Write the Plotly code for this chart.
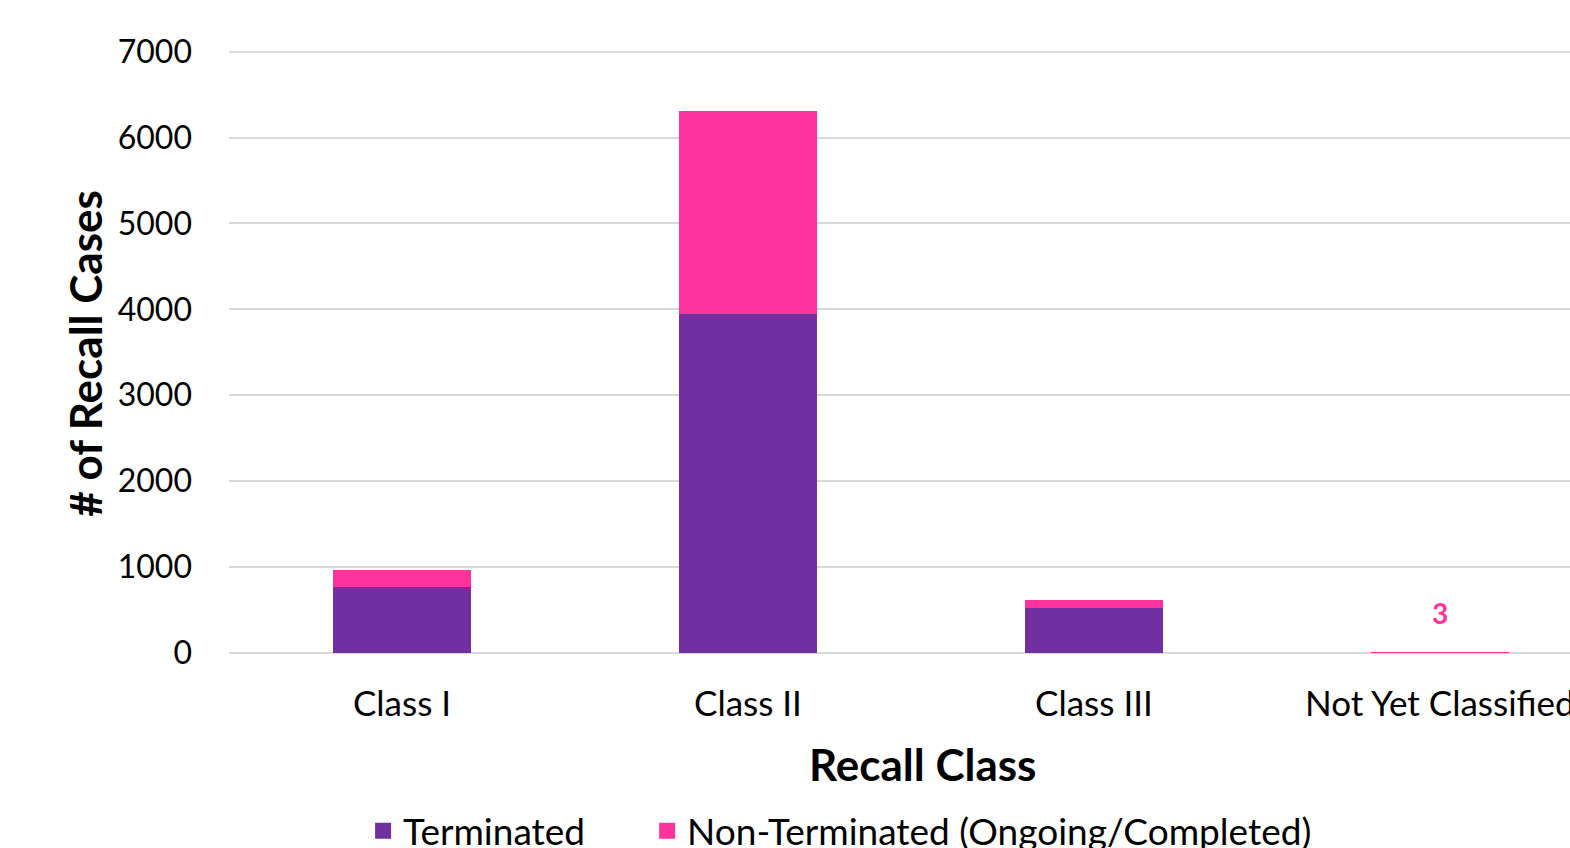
import plotly.graph_objects as go

categories = ["Class I", "Class II", "Class III", "Not Yet Classified"]
terminated = [768, 3950, 523, 0]
non_terminated = [195, 2358, 98, 3]
y_ticks = [0, 1000, 2000, 3000, 4000, 5000, 6000, 7000]

PURPLE = "#7030A0"
PINK = "#FF3399"
FONT = "Lato"

fig = go.Figure()
fig.add_trace(go.Bar(x=categories, y=terminated, name="Terminated", showlegend=False,
                     marker=dict(color=PURPLE, line=dict(width=0)), width=0.4))
fig.add_trace(go.Bar(x=categories, y=non_terminated, name="Non-Terminated (Ongoing/Completed)",
                     showlegend=False,
                     marker=dict(color=PINK, line=dict(width=0)), width=0.4))
# legend entries with larger square swatches
fig.add_trace(go.Scatter(x=[None], y=[None], mode="markers", name="Terminated", legend="legend",
                         marker=dict(symbol="square", size=20, color=PURPLE)))
fig.add_trace(go.Scatter(x=[None], y=[None], mode="markers", name="Non-Terminated (Ongoing/Completed)",
                         legend="legend2",
                         marker=dict(symbol="square", size=20, color=PINK)))

fig.add_annotation(x=categories[3], y=terminated[3] + non_terminated[3], text="<b>3</b>",
                   showarrow=False, yshift=40, font=dict(family=FONT, size=28, color=PINK))

fig.add_annotation(xref="paper", yref="paper", x=0.5168, y=-0.184, text="<b>Recall Class</b>",
                   showarrow=False, xanchor="center", yanchor="middle",
                   font=dict(family=FONT, size=44, color="black"))
fig.add_annotation(xref="paper", yref="paper", x=-0.1074, y=0.497, text="<b># of Recall Cases</b>",
                   showarrow=False, xanchor="center", yanchor="middle", textangle=-90,
                   font=dict(family=FONT, size=44, color="black"))

legend_common = dict(orientation="h", xanchor="left", yanchor="middle", y=-0.295,
                     font=dict(family=FONT, size=37, color="black"),
                     itemwidth=30, itemsizing="trace", bgcolor="rgba(0,0,0,0)")

fig.update_layout(
    barmode="stack",
    width=1570, height=848,
    margin=dict(l=229, r=0, t=49, b=195, autoexpand=False),
    plot_bgcolor="white", paper_bgcolor="white",
    font=dict(family=FONT, size=30, color="black"),
    showlegend=True,
    legend=dict(x=0.1, **legend_common),
    legend2=dict(x=0.3118, **legend_common),
    bargap=0.6,
)
fig.update_xaxes(range=[-0.5, 3.376], showline=False, showgrid=False, ticks="",
                 ticklabelstandoff=27, tickfont=dict(family=FONT, size=35))
fig.update_yaxes(range=[0, 7030], tickvals=y_ticks, showgrid=True, gridcolor="#D9D9D9",
                 gridwidth=1.5, zeroline=True, zerolinecolor="#D9D9D9", zerolinewidth=1.5,
                 showline=False, ticks="", ticklabelstandoff=36,
                 tickfont=dict(family=FONT, size=32))

fig.write_html("out.html")
